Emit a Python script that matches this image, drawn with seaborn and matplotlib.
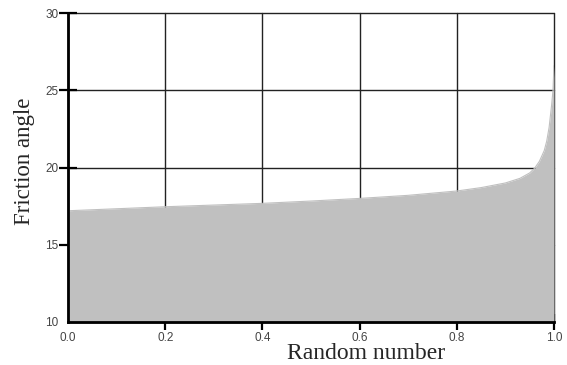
import matplotlib
matplotlib.use('Agg')
import matplotlib.pyplot as plt
import seaborn as sns
import pandas as pd

# values
random_number = [0.0, 0.1, 0.2, 0.3, 0.4, 0.5, 0.6, 0.7, 0.8, 0.85, 0.9, 0.93,
                 0.95, 0.96, 0.97, 0.98, 0.985, 0.99, 0.995, 0.998, 1.0]
friction_angle = [17.2, 17.33, 17.46, 17.57, 17.68, 17.83, 18.0, 18.2, 18.48, 18.7,
                  19.0, 19.3, 19.65, 19.95, 20.4, 21.1, 21.7, 22.6, 24.0, 25.0, 26.6]
x_ticks = [0.0, 0.2, 0.4, 0.6, 0.8, 1.0]
y_ticks = [10, 15, 20, 25, 30]

df = pd.DataFrame({'x': random_number, 'y': friction_angle})

sns.set_style('white')
plt.rcParams['font.family'] = ['Liberation Sans', 'DejaVu Sans']

fig = plt.figure(figsize=(5.67, 3.65), dpi=100)
ax = fig.add_axes([0.12, 0.118, 0.857, 0.846])

fill_color = '#c0c0c0'
ax.fill_between(df['x'], 10, df['y'], color=fill_color, lw=0, zorder=2)
sns.lineplot(data=df, x='x', y='y', color=fill_color, lw=0.8, ax=ax, zorder=2)

ax.set_xlim(0, 1)
ax.set_ylim(10, 30)
ax.set_xticks(x_ticks)
ax.set_yticks(y_ticks)
ax.set_xticklabels([f'{t:.1f}' for t in x_ticks])
ax.set_yticklabels([str(t) for t in y_ticks])

ax.set_axisbelow(True)
ax.grid(True, color='#222222', lw=1.0)
for ln in ax.get_xgridlines() + ax.get_ygridlines():
    ln.set_clip_on(False)

for s in ['top', 'right']:
    ax.spines[s].set_visible(False)
for s in ['left', 'bottom']:
    ax.spines[s].set_color('black')
    ax.spines[s].set_linewidth(2)
    ax.spines[s].set_zorder(4)

ax.tick_params(axis='x', bottom=True, direction='inout', length=11, width=1.6,
               color='black', pad=1.5, labelsize=8.5, labelcolor='#444444')
ax.tick_params(axis='y', left=True, direction='inout', length=13, width=1.6,
               color='black', pad=0.5, labelsize=8.5, labelcolor='#444444')
ax.xaxis.get_major_ticks()[0].tick1line.set_visible(False)
ax.yaxis.get_major_ticks()[0].tick1line.set_visible(False)
for t in ax.xaxis.get_major_ticks() + ax.yaxis.get_major_ticks():
    t.tick1line.set_zorder(5)

ax.set_xlabel('Random number', family='Liberation Serif', fontsize=17)
ax.set_ylabel('Friction angle', family='Liberation Serif', fontsize=16.5)
ax.xaxis.set_label_coords(0.613, -0.068)
ax.yaxis.set_label_coords(-0.068, 0.52)

plt.savefig('out.png', dpi=100)
